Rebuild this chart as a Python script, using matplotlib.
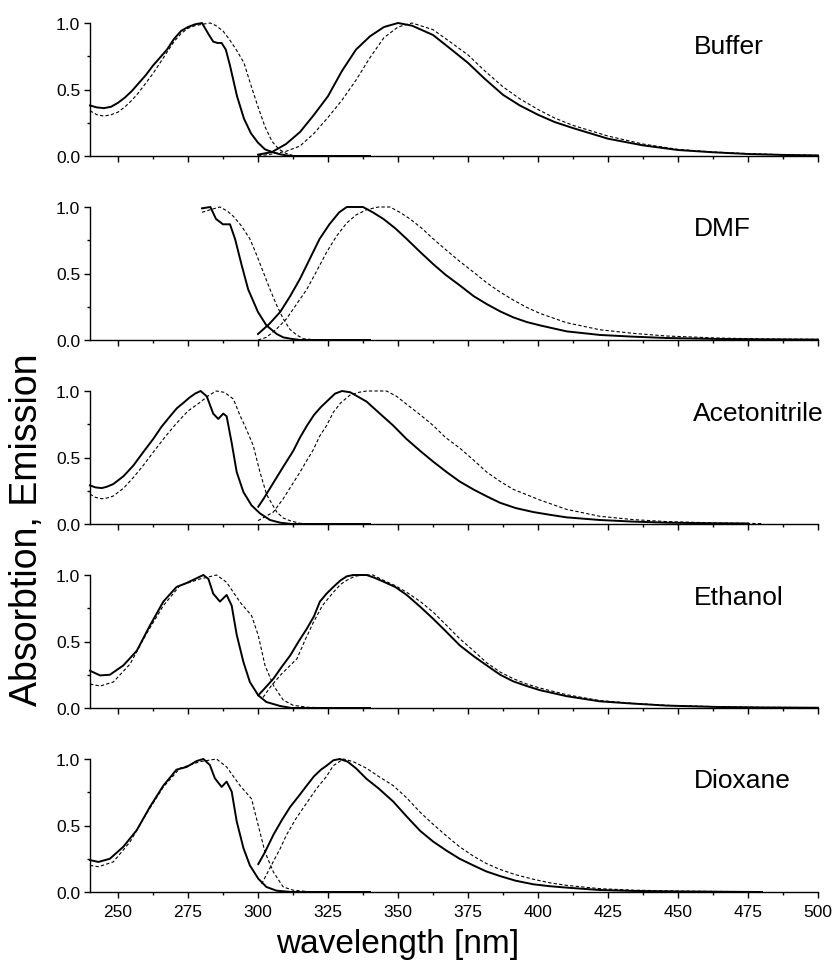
import matplotlib
matplotlib.use("Agg")
import matplotlib.pyplot as plt
from matplotlib.ticker import MultipleLocator

plt.rcParams['font.family'] = ['Liberation Sans', 'DejaVu Sans']

# Buffer
buffer_abs_x = [240, 242.5, 245, 247.5, 250, 252.5, 255, 257.5, 260, 262.5, 265, 267.5, 270, 272.5, 275,
                277.5, 280, 282.5, 284, 285.5, 287, 288.5, 290, 292.5, 295, 297.5, 300, 302.5, 305,
                307.5, 310, 312, 320, 330, 340]
buffer_abs = [.38, .365, .36, .37, .40, .44, .49, .55, .61, .68, .74, .80, .88, .94, .97,
              .99, 1.0, .91, .86, .85, .85, .80, .68, .45, .28, .17, .10, .05, .03,
              .015, .005, 0, 0, 0, 0]
buffer_abs2_x = [240, 242.5, 245, 247.5, 250, 252.5, 255, 257.5, 260, 262.5, 265, 267.5, 270, 272.5, 275,
                 277.5, 280, 283, 285, 287.5, 290, 292.5, 295, 297.5, 300, 302.5, 305, 307.5, 310, 313,
                 320, 330]
buffer_abs2 = [.34, .31, .30, .31, .33, .37, .42, .48, .55, .62, .70, .78, .86, .92, .96,
               .98, .99, 1.0, .98, .94, .87, .79, .70, .53, .37, .22, .11, .05, .02, 0,
               0, 0]
buffer_em_x = [300, 305, 310, 315, 320, 325, 330, 335, 340, 345, 350, 355, 362.5, 368.5, 375, 381,
               387.5, 393.5, 400, 406, 412.5, 425, 437.5, 450, 462.5, 475, 487.5, 500]
buffer_em = [.01, .03, .09, .18, .31, .45, .64, .80, .90, .97, 1.0, .98, .91, .81, .70, .58,
             .46, .38, .31, .255, .21, .13, .08, .045, .028, .015, .008, .004]
buffer_em2_x = [300, 305, 310, 315, 320, 325, 330, 335, 340, 345, 350, 355, 362.5, 368.5, 375, 381,
                387.5, 393.5, 400, 406, 412.5, 425, 437.5, 450, 462.5, 475, 487.5, 500]
buffer_em2 = [0, .015, .035, .075, .17, .29, .42, .57, .74, .89, .97, 1.0, .95, .86, .76, .64,
              .52, .43, .35, .285, .23, .15, .09, .05, .03, .018, .01, .005]

# DMF
dmf_abs_x = [280, 283, 285, 287.5, 290, 291.8, 294.2, 296.5, 300, 303, 306.7, 309, 311.5, 315, 325, 340]
dmf_abs = [.99, 1.0, .91, .87, .87, .76, .56, .38, .21, .11, .045, .02, .01, 0, 0, 0]
dmf_abs2_x = [280, 283, 286.4, 289, 291.2, 294, 297.1, 299.5, 301.9, 304.3, 306.7, 309, 311.4, 314,
              316.2, 321, 330, 340]
dmf_abs2 = [.96, .98, 1.0, .97, .93, .86, .76, .64, .51, .38, .26, .16, .08, .035,
            .01, 0, 0, 0]
dmf_em_x = [300, 304, 307.9, 311.5, 315, 318.5, 322, 325.5, 329, 331.7, 335, 337.5, 341, 344.8, 349,
            353.1, 358, 362.6, 367, 372.1, 377, 381.7, 386.5, 391.2, 396, 400.7, 410.2, 422.1, 434,
            446, 463.8, 480, 500]
dmf_em = [.045, .12, .21, .33, .46, .61, .76, .87, .96, 1.0, 1.0, 1.0, .96, .91, .84,
          .76, .66, .57, .49, .41, .33, .27, .215, .17, .135, .11, .065, .038, .025,
          .015, .008, .005, .003]
dmf_em2_x = [300, 303, 306.5, 310.2, 313.8, 317.4, 321, 324.5, 328, 331.7, 335, 338.8, 343, 347.1,
             350.7, 354.3, 358.5, 362.6, 367, 372.1, 377, 381.7, 386.5, 391.2, 396, 400.7, 410.2,
             422.1, 434, 446, 463.8, 480, 500]
dmf_em2 = [0, .02, .08, .16, .27, .38, .52, .66, .78, .88, .94, .98, 1.0, 1.0,
           .96, .91, .84, .76, .68, .59, .51, .43, .36, .30, .245, .20, .13,
           .077, .05, .03, .015, .008, .005]

# Acetonitrile
acn_abs_x = [240, 242, 244.2, 246, 248.3, 252, 255.5, 259, 262.6, 265.5, 268.6, 271, 273.3, 275.5,
             277.5, 279.5, 281.7, 284, 285.8, 287.6, 288.8, 290.6, 292.4, 294.8, 297.7, 300.7,
             304.3, 307.9, 312, 320, 330, 340]
acn_abs = [.29, .275, .27, .28, .30, .36, .44, .54, .64, .73, .81, .87, .91, .95,
           .98, 1.0, .96, .83, .79, .83, .81, .61, .39, .24, .14, .08,
           .03, .01, 0, 0, 0, 0]
acn_abs2_x = [240, 242, 244.2, 246, 248.3, 252, 255.5, 259, 262.6, 267, 271, 275, 279, 282, 285, 288,
              291.2, 293.5, 295.9, 298.3, 300.7, 303.1, 306.7, 309, 311.4, 315, 320, 330, 340]
acn_abs2 = [.225, .20, .19, .195, .21, .27, .35, .44, .54, .66, .76, .85, .91, .96, 1.0, .99,
            .94, .82, .71, .59, .39, .22, .09, .045, .025, .005, 0, 0, 0]
acn_em_x = [300.1, 302, 305.5, 309, 312.6, 315, 317.5, 320, 322.5, 325, 327.5, 330, 333, 338.8, 343,
            348.3, 353, 357.9, 362.5, 367.4, 372, 376.9, 381.5, 386.4, 392, 398.3, 404, 410.2,
            422.1, 434, 446, 460, 475]
acn_em = [.13, .19, .31, .43, .55, .65, .74, .82, .88, .93, .98, 1.0, .99, .92, .84,
          .74, .64, .55, .47, .39, .32, .26, .21, .16, .12, .09, .07, .05,
          .03, .018, .01, .006, .004]
acn_em2_x = [300, 303, 305.5, 309, 312.6, 315, 317.5, 319.8, 322, 324.5, 326.9, 329.5, 332.9, 336,
             338.8, 342, 345.9, 349.5, 353.1, 358, 362.6, 367, 372.1, 377, 381.7, 386.5, 391.2,
             396, 400.7, 410.2, 422.1, 434, 446, 463.8, 480]
acn_em2 = [.025, .06, .09, .19, .31, .39, .48, .56, .66, .74, .84, .91, .97, .99,
           1.0, 1.0, 1.0, .96, .90, .82, .74, .65, .57, .48, .39, .32, .26,
           .22, .18, .11, .058, .033, .018, .008, .003]

# Ethanol
eth_abs_x = [240, 243.6, 247.1, 251.9, 256.7, 261.4, 266.2, 270.9, 274.5, 277.5, 280.5, 282.3, 284,
             286.4, 288.8, 290.6, 292.4, 294.8, 297.1, 300.1, 303, 307.9, 312, 320, 330, 340]
eth_abs = [.28, .245, .25, .32, .43, .62, .80, .91, .94, .97, 1.0, .97, .86,
           .80, .85, .77, .55, .345, .195, .095, .045, .015, 0, 0, 0, 0]
eth_abs2_x = [240, 243.6, 248.3, 254.3, 260.2, 266.2, 272.1, 279.3, 285.2, 288.8, 293.6, 297.7, 300.1,
              302.5, 305.5, 309, 312.6, 318, 330, 340]
eth_abs2 = [.18, .165, .195, .33, .56, .77, .92, .97, 1.0, .945, .795, .695, .545,
            .32, .17, .06, .02, .005, 0, 0]
eth_em_x = [300.1, 302.5, 305.5, 308.5, 311.5, 314.5, 317.4, 320, 322.1, 324.5, 326.9, 329.5, 331.7,
            334, 336.4, 338.8, 341.5, 344.8, 349, 353.1, 358, 362.6, 367.4, 372.1, 377, 381.7,
            386.5, 391.2, 396, 400.7, 410.2, 422.1, 434, 446, 463.8, 480, 500]
eth_em = [.095, .15, .22, .31, .395, .50, .595, .69, .80, .86, .91, .96, .99,
          1.0, 1.0, 1.0, .98, .95, .91, .85, .76, .67, .57, .47, .39, .32,
          .25, .20, .165, .134, .089, .05, .033, .018, .008, .004, .002]
eth_em2_x = [301.8, 304.5, 307.9, 311, 313.9, 317, 319.8, 323, 326.9, 329.5, 331.7, 334.5, 337.6, 341,
             344.8, 349, 353.1, 358, 362.6, 367.4, 372.1, 377, 381.7, 386.5, 391.2, 396, 400.7,
             410.2, 422.1, 434, 446, 463.8, 480, 500]
eth_em2 = [.08, .16, .245, .31, .37, .52, .645, .77, .87, .93, .96, .99, 1.0, 1.0,
           .96, .92, .87, .80, .72, .62, .52, .43, .34, .27, .22, .18, .15,
           .10, .056, .035, .02, .01, .005, .003]

# Dioxane
dio_abs_x = [240, 243, 247.1, 251.9, 256.7, 261.4, 266.2, 270.9, 274.5, 278.1, 280.5, 282.8, 284.6,
             287, 288.8, 290.6, 292.4, 294.8, 297.1, 300.1, 303, 306.6, 312, 320, 330, 340]
dio_abs = [.24, .226, .25, .34, .465, .64, .80, .92, .94, .985, 1.0, .955, .855,
           .79, .83, .755, .53, .33, .20, .10, .038, .01, 0, 0, 0, 0]
dio_abs2_x = [240, 243, 248.3, 254.3, 260.2, 266.2, 272.1, 279.3, 285.2, 288.8, 293.6, 297.7, 300.1,
              302.5, 305.5, 309, 312.6, 318, 330, 340]
dio_abs2 = [.20, .19, .226, .377, .59, .79, .93, .98, 1.0, .94, .80, .70, .50,
            .30, .15, .038, .013, .003, 0, 0]
dio_em_x = [300.1, 302.5, 305.5, 308.5, 311.5, 314.5, 317.4, 320, 322.5, 324.5, 326.9, 329.2, 332,
            335, 338.8, 343, 348.3, 353, 357.9, 362.5, 367.4, 372, 376.9, 381.5, 386.4, 392, 398.3,
            404, 410.2, 422.1, 434, 450, 480]
dio_em = [.21, .30, .43, .54, .64, .72, .80, .87, .92, .95, .99, 1.0, .98,
          .93, .85, .78, .68, .57, .46, .38, .31, .25, .20, .155, .12, .085, .058,
          .044, .033, .015, .008, .004, 0]
dio_em2_x = [301.3, 303.5, 305.5, 308, 310.2, 313.5, 317.4, 321, 324.5, 326.9, 330.5, 334, 338.8, 343,
             348.3, 353, 357.9, 362.5, 367.4, 372, 376.9, 381.5, 386.4, 392, 398.3, 404, 410.2,
             422.1, 434, 450, 475]
dio_em2 = [.06, .15, .23, .33, .43, .55, .67, .78, .87, .95, 1.0, .98, .93, .87,
           .80, .71, .60, .51, .42, .34, .27, .215, .17, .13, .096, .07, .05,
           .025, .014, .007, .002]

solvents = ["Buffer", "DMF", "Acetonitrile", "Ethanol", "Dioxane"]
label_y = [0.83, 0.84, 0.835, 0.835, 0.84]

panels = [
    (buffer_abs_x, buffer_abs, buffer_abs2_x, buffer_abs2, buffer_em_x, buffer_em, buffer_em2_x, buffer_em2),
    (dmf_abs_x, dmf_abs, dmf_abs2_x, dmf_abs2, dmf_em_x, dmf_em, dmf_em2_x, dmf_em2),
    (acn_abs_x, acn_abs, acn_abs2_x, acn_abs2, acn_em_x, acn_em, acn_em2_x, acn_em2),
    (eth_abs_x, eth_abs, eth_abs2_x, eth_abs2, eth_em_x, eth_em, eth_em2_x, eth_em2),
    (dio_abs_x, dio_abs, dio_abs2_x, dio_abs2, dio_em_x, dio_em, dio_em2_x, dio_em2),
]

W, H = 837, 962
fig = plt.figure(figsize=(W / 100, H / 100), dpi=100)

left = 90 / W
width = 728 / W
height = 133 / H

for i, (name, data) in enumerate(zip(solvents, panels)):
    bottom_px = 157 + 184 * i
    ax = fig.add_axes([left, 1 - bottom_px / H, width, height])
    ax1x, ax1y, ax2x, ax2y, em1x, em1y, em2x, em2y = data
    solid = dict(color="black", lw=1.4, clip_on=False, solid_joinstyle="round")
    dashed = dict(color="black", lw=0.8, ls=(0, (3, 2)), clip_on=False)
    ax.plot(ax1x, ax1y, **solid)
    ax.plot(em1x, em1y, **solid)
    ax.plot(ax2x, ax2y, **dashed)
    ax.plot(em2x, em2y, **dashed)

    ax.set_xlim(240, 500)
    ax.set_ylim(0, 1.0)
    ax.spines["top"].set_visible(False)
    ax.spines["right"].set_visible(False)
    for s in ("left", "bottom"):
        ax.spines[s].set_linewidth(1.0)
    ax.xaxis.set_major_locator(MultipleLocator(25))
    ax.xaxis.set_minor_locator(MultipleLocator(12.5))
    ax.yaxis.set_major_locator(MultipleLocator(0.5))
    ax.yaxis.set_minor_locator(MultipleLocator(0.25))
    ax.tick_params(which="major", direction="out", length=4, width=1.0, labelsize=12.5, pad=3)
    ax.tick_params(which="minor", direction="out", length=2.5, width=1.0)
    ax.tick_params(axis="x", which="major", pad=5)
    ax.yaxis.set_major_formatter(plt.FuncFormatter(lambda v, p: "%.1f" % v))
    if i < len(solvents) - 1:
        ax.tick_params(axis="x", labelbottom=False)
    ax.text(455.5, label_y[i], name, fontsize=19, va="center", ha="left",
            transform=ax.get_xaxis_transform())

fig.text(398 / W, 1 - 945 / H, "wavelength [nm]", fontsize=24, ha="center", va="center")
fig.text(27 / W, 1 - 530 / H, "Absorbtion, Emission", fontsize=27, rotation=90,
         ha="center", va="center")

fig.savefig("out.png", dpi=100)
